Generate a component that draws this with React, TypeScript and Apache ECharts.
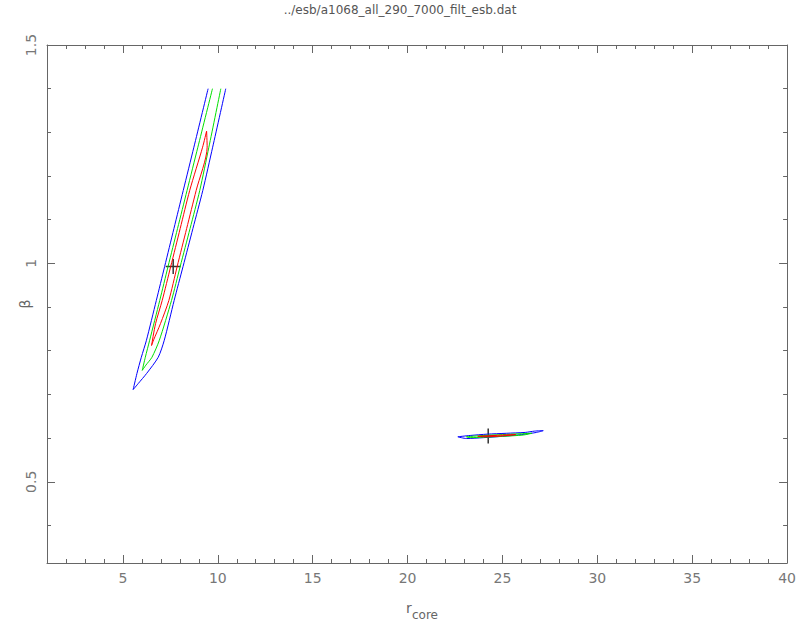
import React, { useEffect, useRef } from "react";
import * as echarts from "echarts";

const titleText = "../esb/a1068_all_290_7000_filt_esb.dat";
const xMajor = [5, 10, 15, 20, 25, 30, 35, 40];
const xMinor = [2, 3, 4, 6, 7, 8, 9, 11, 12, 13, 14, 16, 17, 18, 19, 21, 22, 23, 24, 26, 27, 28, 29, 31, 32, 33, 34, 36, 37, 38, 39];
const yMajor = [0.5, 1, 1.5];
const yMinor = [0.4, 0.6, 0.7, 0.8, 0.9, 1.1, 1.2, 1.3, 1.4];

// left (elongated) confidence contours, open at top edge of grid
const blueLeft = [
  [9.49, 1.4], [8.74, 1.266], [8.18, 1.167], [7.69, 1.08], [7.2, 0.993], [6.76, 0.915], [6.24, 0.824], [5.97, 0.785], [5.74, 0.748], [5.54, 0.711],
  [5.81, 0.725], [6.25, 0.748], [6.86, 0.785], [7.18, 0.824], [7.7, 0.915], [8.17, 0.993], [8.69, 1.08], [9.21, 1.167], [9.73, 1.266], [10.42, 1.4],
];
const greenLeft = [
  [9.72, 1.4], [8.95, 1.266], [8.38, 1.167], [7.88, 1.08], [7.38, 0.993], [6.94, 0.915], [6.41, 0.824], [6.18, 0.785], [6.02, 0.755],
  [6.21, 0.767], [6.53, 0.785], [6.92, 0.824], [7.56, 0.915], [8.02, 0.993], [8.54, 1.08], [9.05, 1.167], [9.53, 1.266], [10.16, 1.4],
];
const redLeft = [
  [9.41, 1.303], [9.2, 1.266], [8.52, 1.167], [8.02, 1.08], [7.52, 0.993], [7.07, 0.915], [6.72, 0.862], [6.51, 0.812],
  [6.62, 0.825], [6.98, 0.862], [7.42, 0.915], [7.86, 0.993], [8.36, 1.08], [8.86, 1.167], [9.44, 1.266], [9.41, 1.303],
];
// right (compact) confidence contours
const blueRight = [
  [22.65, 0.603], [23.3, 0.606], [24.2, 0.609], [25.2, 0.611], [26.2, 0.613], [26.7, 0.616], [27.15, 0.617],
  [26.8, 0.613], [26.0, 0.608], [25.0, 0.604], [24.0, 0.601], [23.1, 0.599], [22.65, 0.603],
];
const greenRight = [
  [23.1, 0.603], [24.0, 0.606], [25.0, 0.608], [26.0, 0.61], [26.55, 0.611],
  [26.1, 0.607], [25.0, 0.604], [24.0, 0.602], [23.3, 0.601], [23.1, 0.603],
];
const redRight = [
  [23.7, 0.604], [24.6, 0.606], [25.7, 0.608], [25.0, 0.605], [24.1, 0.603], [23.7, 0.604],
];
const bestFits = [[7.65, 0.993], [24.25, 0.605]];

const AX = "#666";
const FONT = "DejaVu Sans";

function xAxisDef(pos: string, showLabels: boolean, ticks: number[], len: number, showLine: boolean) {
  return {
    type: "value",
    position: pos,
    min: 1,
    max: 40,
    axisLine: { show: showLine, onZero: false, lineStyle: { color: AX, width: 1 } },
    axisTick: { show: true, inside: true, length: len, customValues: ticks, lineStyle: { color: AX, width: 1 } },
    axisLabel: showLabels
      ? { show: true, customValues: xMajor, margin: 8, color: "#777", fontFamily: FONT, fontSize: 14 }
      : { show: false },
    splitLine: { show: false },
  };
}
function yAxisDef(pos: string, showLabels: boolean, ticks: number[], len: number, showLine: boolean) {
  return {
    type: "value",
    position: pos,
    min: 0.314,
    max: 1.5,
    axisLine: { show: showLine, onZero: false, lineStyle: { color: AX, width: 1 } },
    axisTick: { show: true, inside: true, length: len, customValues: ticks, lineStyle: { color: AX, width: 1 } },
    axisLabel: showLabels
      ? { show: true, customValues: yMajor, rotate: 90, margin: 9, color: "#777", fontFamily: FONT, fontSize: 14 }
      : { show: false },
    splitLine: { show: false },
  };
}

function line(data: number[][], color: string) {
  return {
    type: "line",
    data,
    xAxisIndex: 0,
    yAxisIndex: 0,
    showSymbol: false,
    symbol: "none",
    smooth: 0.25,
    lineStyle: { color, width: 1 },
    silent: true,
  };
}

export default function App() {
  const ref = useRef<HTMLDivElement>(null);
  useEffect(() => {
    document.body.style.margin = "0";
    const chart = echarts.init(ref.current!, null, { renderer: "svg" });
    chart.setOption({
      animation: false,
      backgroundColor: "#fff",
      grid: { left: 47, right: 10, top: 45, bottom: 60, containLabel: false },
      xAxis: [
        xAxisDef("bottom", true, xMajor, 8, true),
        xAxisDef("bottom", false, xMinor, 4, false),
        xAxisDef("top", false, xMajor, 8, true),
        xAxisDef("top", false, xMinor, 4, false),
      ],
      yAxis: [
        yAxisDef("left", true, yMajor, 8, true),
        yAxisDef("left", false, yMinor, 4, false),
        yAxisDef("right", false, yMajor, 8, true),
        yAxisDef("right", false, yMinor, 4, false),
      ],
      graphic: [
        { type: "text", x: 400, y: 4, style: { text: titleText, fill: "#555", font: `12px "${FONT}"`, textAlign: "center", textVerticalAlign: "top" } },
        { type: "text", x: 406, y: 601, style: { text: "r", fill: "#666", font: `14px "${FONT}"`, textAlign: "left", textVerticalAlign: "top" } },
        { type: "text", x: 412, y: 609, style: { text: "core", fill: "#666", font: `12px "${FONT}"`, textAlign: "left", textVerticalAlign: "top" } },
        { type: "text", x: 25, y: 304, rotation: Math.PI / 2, style: { text: "β", fill: "#666", font: `14px "${FONT}"`, textAlign: "center", textVerticalAlign: "middle" } },
      ],
      series: [
        line(blueLeft, "#0000ff"),
        line(greenLeft, "#00e000"),
        line(redLeft, "#ff0000"),
        line(blueRight, "#0000ff"),
        line(greenRight, "#00e000"),
        line(redRight, "#ff0000"),
        {
          type: "scatter",
          data: bestFits,
          xAxisIndex: 0,
          yAxisIndex: 0,
          symbol: "path://M0,-1L0,1M-1,0L1,0",
          symbolSize: 15,
          itemStyle: { color: "transparent", borderColor: "#000", borderWidth: 1.5 },
          silent: true,
        },
      ],
    });
    return () => chart.dispose();
  }, []);
  return <div ref={ref} style={{ width: 799, height: 623 }} />;
}
